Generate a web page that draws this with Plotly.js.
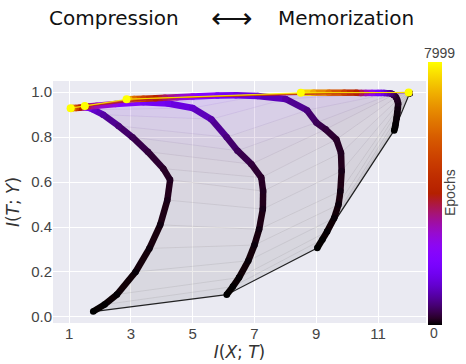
<!DOCTYPE html>
<html><head><meta charset="utf-8">
<script src="https://cdn.plot.ly/plotly-3.0.1.min.js"></script>
<style>html,body{margin:0;padding:0;background:#fff}</style>
</head><body><div id="chart" style="width:466px;height:364px"></div>
<script>
// ---------------- data ----------------
const epochs = [0,10,20,40,60,80,120,160,200,300,450,650,900,1200,1500,1750,2500,3000,3500,4000,5000,6000,7000,7999];

const layer1X = [1.78,2.15,2.55,3.15,3.6,3.95,4.18,4.27,4.05,3.55,3.05,2.6,2.1,1.8,1.66,1.6,1.56,1.5,1.42,1.33,1.22,1.14,1.08,1.05];
const layer1Y = [0.024,0.055,0.1,0.2,0.305,0.41,0.52,0.61,0.66,0.735,0.8,0.85,0.9,0.922,0.93,0.932,0.933,0.933,0.932,0.931,0.93,0.93,0.929,0.929];

const layer2X = [6.10,6.3,6.5,6.8,7.0,7.15,7.27,7.28,7.22,6.9,6.45,6.1,5.6,5.0,4.2,3.4,2.5,1.9,1.62,1.55,1.52,1.51,1.51,1.51];
const layer2Y = [0.099,0.135,0.175,0.25,0.32,0.39,0.48,0.56,0.62,0.68,0.74,0.8,0.88,0.93,0.95,0.955,0.948,0.94,0.937,0.938,0.938,0.939,0.939,0.939];

const layer3X = [9.03,9.2,9.35,9.58,9.72,9.78,9.82,9.8,9.65,9.3,9.0,8.7,8.0,7.1,6.4,5.8,5.0,4.5,4.1,3.8,3.4,3.1,2.95,2.86];
const layer3Y = [0.307,0.345,0.38,0.44,0.5,0.56,0.65,0.73,0.79,0.835,0.865,0.92,0.97,0.983,0.987,0.986,0.981,0.978,0.975,0.973,0.971,0.97,0.969,0.969];

const layer4X = [11.52,11.55,11.57,11.6,11.62,11.64,11.65,11.62,11.58,11.5,11.45,11.4,11.3,11.2,11.1,11.0,10.8,10.6,10.45,10.3,9.9,9.4,8.9,8.5];
const layer4Y = [0.83,0.845,0.86,0.885,0.91,0.93,0.95,0.965,0.978,0.988,0.992,0.995,0.996,0.997,0.997,0.997,0.997,0.997,0.997,0.998,0.998,0.998,0.998,0.998];

const layer5X = [12.02,12.02,12.02,12.02,12.01,12.01,12.01,12.01,12.0,12.0,12.0,12.0,12.0,12.0,12.0,12.0,12.0,11.99,11.99,11.99,11.99,11.99,11.99,11.99];
const layer5Y = [0.995,0.995,0.996,0.996,0.996,0.997,0.997,0.997,0.997,0.998,0.998,0.998,0.998,0.998,0.998,0.998,0.998,0.998,0.998,0.999,0.999,0.999,0.999,0.999];

const xTickVals = [1,3,5,7,9,11];
const yTickVals = [0.0,0.2,0.4,0.6,0.8,1.0];
const yTickText = ['0.0','0.2','0.4','0.6','0.8','1.0'];
const maxEpoch = 7999;

// ---------------- styling helpers ----------------
function gnuplot(t){
  t = Math.max(0, Math.min(1, t));
  const r = Math.sqrt(t), g = t*t*t, b = Math.max(0, Math.sin(2*Math.PI*t));
  return [Math.round(r*255), Math.round(g*255), Math.round(b*255)];
}
function rgba(c,a){ return 'rgba('+c[0]+','+c[1]+','+c[2]+','+a+')'; }
const colorscale = [];
for (let i=0;i<=40;i++){ const t=i/40; colorscale.push([t, rgba(gnuplot(t),1)]); }

const layers = [[layer1X,layer1Y],[layer2X,layer2Y],[layer3X,layer3Y],[layer4X,layer4Y],[layer5X,layer5Y]];
const X0=0.48, X1=12.55, Y0=-0.027, Y1=1.05;
const PW=373, PH=242.6;
const SX=PW/(X1-X0), SY=PH/(Y1-Y0);

const traces = [];
const n = epochs.length;

// filled bands between consecutive epoch lines (per pair of neighbouring layers)
for (let k=0;k<layers.length-1;k++){
  const A=layers[k], B=layers[k+1];
  for (let i=0;i<n-1;i++){
    const px=[A[0][i],B[0][i],B[0][i+1],A[0][i+1]];
    const py=[A[1][i],B[1][i],B[1][i+1],A[1][i+1]];
    let area=0;
    for (let j=0;j<4;j++){ const j2=(j+1)%4; area += px[j]*SX*py[j2]*SY - px[j2]*SX*py[j]*SY; }
    area=Math.abs(area)/2;
    const len=(Math.hypot((B[0][i]-A[0][i])*SX,(B[1][i]-A[1][i])*SY)+Math.hypot((B[0][i+1]-A[0][i+1])*SX,(B[1][i+1]-A[1][i+1])*SY))/2;
    const dens=(epochs[i+1]-epochs[i])*len/Math.max(area,1);
    const op=Math.min(0.2, 0.06+0.02*Math.log(1+dens));
    const c=gnuplot((epochs[i]+epochs[i+1])/2/maxEpoch);
    traces.push({type:'scatter',mode:'lines',x:px.concat([px[0]]),y:py.concat([py[0]]),
      fill:'toself',fillcolor:rgba(c,op),line:{width:0,color:'rgba(0,0,0,0)'},hoverinfo:'skip',showlegend:false});
  }
}

function epochLine(i, width, op){
  const c=gnuplot(epochs[i]/maxEpoch);
  traces.push({type:'scatter',mode:'lines',x:layers.map(L=>L[0][i]),y:layers.map(L=>L[1][i]),
    line:{width:width,color:rgba(c,op)},hoverinfo:'skip',showlegend:false});
}
for (let i=1;i<n;i++){ if (epochs[i]<3500) epochLine(i, 0.5, 0.15); }
epochLine(0, 1.2, 0.85);

// layer trajectories
layers.forEach((L,li)=>{
  for (let i=0;i<n-1;i++){
    const c=gnuplot((epochs[i]+epochs[i+1])/2/maxEpoch);
    traces.push({type:'scatter',mode:'lines',x:[L[0][i],L[0][i+1]],y:[L[1][i],L[1][i+1]],
      line:{width:6.5,color:rgba(c,1)},hoverinfo:'skip',showlegend:false});
  }
  traces.push({type:'scatter',mode:'markers',x:L[0],y:L[1],
    marker:{size:6.5,color:epochs,cmin:0,cmax:maxEpoch,colorscale:colorscale,line:{width:0},
      showscale: li===0,
      colorbar: li===0 ? {thickness:14,thicknessmode:'pixels',len:1.088,lenmode:'fraction',
        x:1.005,xanchor:'left',xpad:0,y:-0.007,yanchor:'bottom',ypad:0,outlinewidth:0,
        showticklabels:false,ticks:''} : undefined},
    hoverinfo:'skip',showlegend:false});
});

// late epoch lines on top
for (let i=0;i<n;i++){ if (epochs[i]>=3500) epochLine(i, 1.0, 0.7); }

// final positions
traces.push({type:'scatter',mode:'markers',x:layers.map(L=>L[0][n-1]),y:layers.map(L=>L[1][n-1]),
  marker:{size:8,color:rgba(gnuplot(1),1),line:{width:0}},hoverinfo:'skip',showlegend:false});

const tickFont={family:'Liberation Sans, Arial, sans-serif',size:15,color:'#444'};
const titleFont={family:'DejaVu Sans, sans-serif',size:20,color:'#111'};
const cbFont={family:'Liberation Sans, Arial, sans-serif',size:14,color:'#444'};
function pxX(p){return (p-53)/PW;} function pxY(p){return (323.3-p)/PH;}

const layout={
  width:466,height:364,
  margin:{l:53,r:40,t:81,b:41,pad:0},
  paper_bgcolor:'#ffffff',plot_bgcolor:'#EAEAF2',
  showlegend:false,
  xaxis:{range:[X0,X1],tickvals:xTickVals,ticktext:xTickVals.map(String),showgrid:true,gridcolor:'#ffffff',gridwidth:1,
    zeroline:false,showline:false,ticks:'',tickfont:tickFont,automargin:false,
    title:{text:'<i>I</i>(<i>X</i>; <i>T</i>)',standoff:4,font:{family:'DejaVu Sans, sans-serif',size:17,color:'#333'}}},
  yaxis:{range:[Y0,Y1],tickvals:yTickVals,ticktext:yTickText,showgrid:true,gridcolor:'#ffffff',gridwidth:1,
    zeroline:false,showline:false,ticks:'',tickfont:tickFont,automargin:false,
    title:{text:'<i>I</i>(<i>T</i>; <i>Y</i>)',standoff:7,font:{family:'DejaVu Sans, sans-serif',size:17,color:'#333'}}},
  annotations:[
    {text:'Compression',x:pxX(113.5),y:pxY(18),xref:'paper',yref:'paper',xanchor:'center',yanchor:'middle',showarrow:false,font:titleFont},
    {text:'⟷',x:pxX(232),y:pxY(18),xref:'paper',yref:'paper',xanchor:'center',yanchor:'middle',showarrow:false,font:{family:'DejaVu Sans, sans-serif',size:29,weight:200,color:'#111'}},
    {text:'Memorization',x:pxX(346),y:pxY(18),xref:'paper',yref:'paper',xanchor:'center',yanchor:'middle',showarrow:false,font:titleFont},
    {text:'7999',x:pxX(439),y:pxY(53),xref:'paper',yref:'paper',xanchor:'center',yanchor:'middle',showarrow:false,font:cbFont},
    {text:'0',x:pxX(434),y:pxY(333),xref:'paper',yref:'paper',xanchor:'center',yanchor:'middle',showarrow:false,font:cbFont},
    {text:'Epochs',x:pxX(450),y:pxY(193),xref:'paper',yref:'paper',xanchor:'center',yanchor:'middle',textangle:-90,showarrow:false,font:cbFont}
  ]
};
Plotly.newPlot('chart',traces,layout,{staticPlot:true,displayModeBar:false});
</script></body></html>
